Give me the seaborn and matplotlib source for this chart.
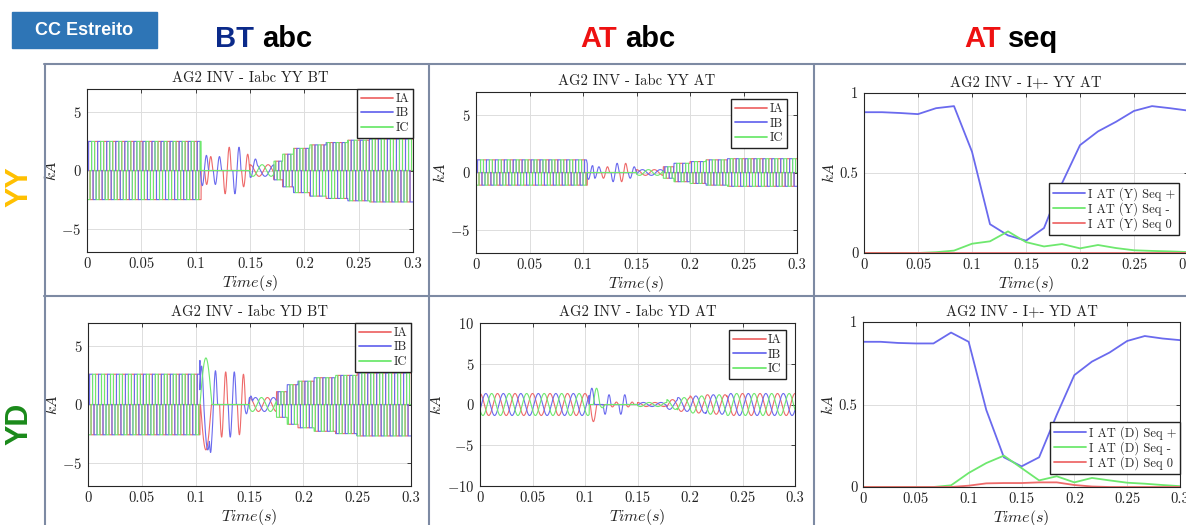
"""Recreate the CC Estreito current panels (abc and sequence currents).
"""
import numpy as np
import matplotlib
matplotlib.use("Agg")
import matplotlib.pyplot as plt
import seaborn as sns
from matplotlib.lines import Line2D
from matplotlib.patches import Rectangle

W, H = 1186, 525

phases = ["IA", "IB", "IC"]
phase_colors = {"IA": "#ee6a6a", "IB": "#6a6aee", "IC": "#6ee86e"}
F_GRID = 60.0      # sinusoidal currents
F_SQUARE = 120.0   # chopped (square) currents, as read from the plateau spacing
PHASE0 = np.pi / 2
BURST_W = 0.0075

# --- abc panels: piecewise amplitudes (segment start times, kA) ---
yy_bt_seg_t = [0.0, 0.105, 0.150, 0.172, 0.180, 0.190, 0.205, 0.220, 0.240, 0.260]
yy_bt_seg_sq = [2.5, 0.0, 0.0, 0.8, 1.4, 1.9, 2.2, 2.4, 2.6, 2.7]
yy_bt_seg_sin = [0.0, 0.0, 0.5, 0.0, 0.0, 0.0, 0.0, 0.0, 0.0, 0.0]
yy_bt_bursts = [("IB", 0.108, 1.3), ("IA", 0.112, 1.2), ("IB", 0.120, 1.2),
                ("IA", 0.129, 2.0), ("IB", 0.138, 2.0), ("IA", 0.146, 1.4),
                ("IB", 0.153, 0.5)]
yy_bt_lobes = []

yy_at_seg_t = [0.0, 0.104, 0.150, 0.175, 0.185, 0.200, 0.215, 0.235]
yy_at_seg_sq = [1.1, 0.0, 0.0, 0.5, 0.8, 0.95, 1.1, 1.2]
yy_at_seg_sin = [0.0, 0.0, 0.25, 0.0, 0.0, 0.0, 0.0, 0.0]
yy_at_bursts = [("IB", 0.107, 0.6), ("IB", 0.113, 0.5), ("IA", 0.121, 0.5),
                ("IB", 0.130, 0.8), ("IA", 0.138, 0.8), ("IB", 0.146, 0.5)]
yy_at_lobes = []

yd_bt_seg_t = [0.0, 0.104, 0.150, 0.175, 0.185, 0.195, 0.210, 0.230, 0.250]
yd_bt_seg_sq = [2.6, 0.0, 0.0, 1.1, 1.7, 2.0, 2.3, 2.5, 2.7]
yd_bt_seg_sin = [0.0, 0.0, 0.6, 0.0, 0.0, 0.0, 0.0, 0.0, 0.0]
yd_bt_bursts = [("IB", 0.1165, 2.9), ("IA", 0.126, 2.8), ("IB", 0.134, 2.8),
                ("IA", 0.1425, 2.6), ("IB", 0.149, 0.8)]
yd_bt_lobes = [("IC", 0.104, 0.011, 4.0), ("IA", 0.1045, 0.010, -3.9),
               ("IB", 0.1035, 0.004, 3.3), ("IB", 0.1075, 0.0075, -3.9)]

yd_at_seg_t = [0.0, 0.104, 0.150, 0.178, 0.188, 0.200, 0.215, 0.235]
yd_at_seg_sq = [0.0, 0.0, 0.0, 0.0, 0.0, 0.0, 0.0, 0.0]
yd_at_seg_sin = [1.35, 0.0, 0.25, 0.6, 0.85, 1.05, 1.2, 1.35]
yd_at_bursts = [("IB", 0.121, 1.2), ("IA", 0.128, 0.3), ("IB", 0.136, 1.2),
                ("IA", 0.143, 0.3)]
yd_at_lobes = [("IB", 0.104, 0.005, 2.0), ("IA", 0.105, 0.006, -2.1),
               ("IC", 0.108, 0.006, 2.0), ("IC", 0.114, 0.005, -0.4)]

# --- sequence panels (kA, one value per cycle) ---
seq_t = np.linspace(0, 0.3, 19)
yy_seq_pos = [0.88, 0.88, 0.875, 0.868, 0.905, 0.918, 0.633, 0.18, 0.11, 0.077,
              0.156, 0.436, 0.674, 0.76, 0.82, 0.888, 0.918, 0.905, 0.89]
yy_seq_neg = [0.0, 0.0, 0.0, 0.0, 0.005, 0.015, 0.058, 0.073, 0.135, 0.068,
              0.041, 0.056, 0.029, 0.05, 0.031, 0.017, 0.013, 0.01, 0.006]
yy_seq_zero = [0.0] * 19
yd_seq_pos = [0.88, 0.88, 0.873, 0.87, 0.87, 0.936, 0.88, 0.467, 0.18, 0.125,
              0.18, 0.437, 0.678, 0.76, 0.815, 0.885, 0.915, 0.90, 0.89]
yd_seq_neg = [0.0, 0.0, 0.0, 0.0, 0.0, 0.01, 0.085, 0.145, 0.19, 0.115,
              0.04, 0.065, 0.028, 0.055, 0.04, 0.026, 0.02, 0.012, 0.005]
yd_seq_zero = [0.0, 0.0, 0.0, 0.0, 0.0, 0.0, 0.008, 0.022, 0.024, 0.024,
               0.028, 0.028, 0.012, 0.003, 0.0, 0.0, 0.0, 0.0, 0.0]

t = np.linspace(0, 0.3, 9001)


def steps(seg_t, seg_v, tt):
    idx = np.searchsorted(seg_t, tt, side="right") - 1
    return np.asarray(seg_v)[idx]


def phase_wave(k, name, seg_t, seg_sq, seg_sin, bursts, lobes):
    shift = PHASE0 - k * 2 * np.pi / 3
    s = np.sin(2 * np.pi * F_GRID * t + shift)
    q = np.sin(2 * np.pi * F_SQUARE * t + shift)
    square = np.sign(q) * (np.abs(q) >= 0.5)
    y = steps(seg_t, seg_sq, t) * square + steps(seg_t, seg_sin, t) * s
    for ph, tc, a in bursts:
        if ph == name:
            m = np.abs(t - tc) < BURST_W / 2
            y[m] += a * np.sin(2 * np.pi * (t[m] - tc) / BURST_W)
    for ph, ts, w, a in lobes:
        if ph == name:
            m = (t >= ts) & (t < ts + w)
            y[m] += a * np.sin(np.pi * (t[m] - ts) / w)
    return y


sns.set_theme(style="whitegrid")
plt.rcParams.update({
    "font.family": ["cmr10", "DejaVu Serif"],
    "mathtext.fontset": "cm",
    "axes.formatter.use_mathtext": True,
    "axes.unicode_minus": False,
})

fig = plt.figure(figsize=(W / 100, H / 100), dpi=100)
fig.patch.set_facecolor("white")


def make_ax(left, right, top, bottom):
    return fig.add_axes([left / W, 1 - bottom / H, (right - left) / W, (bottom - top) / H])


def style_ax(ax, title, ylim, yticks):
    ax.set_xlim(0, 0.3)
    ax.set_ylim(*ylim)
    ax.set_xticks([0, 0.05, 0.1, 0.15, 0.2, 0.25, 0.3])
    ax.set_xticklabels(["0", "0.05", "0.1", "0.15", "0.2", "0.25", "0.3"])
    ax.set_yticks(yticks)
    ax.set_title(title, fontsize=10.5, pad=5, color="#222222")
    ax.set_xlabel(r"$Time(s)$", fontsize=11.5, labelpad=1, color="#222222")
    ax.set_ylabel(r"$kA$", fontsize=11, labelpad=2, color="#222222")
    ax.tick_params(direction="in", top=True, right=True, length=3, width=0.6,
                   labelsize=10.5, colors="#222222", pad=4)
    ax.grid(True, color="#dddddd", lw=0.7)
    for sp in ax.spines.values():
        sp.set_color("#262626")
        sp.set_linewidth(0.8)
    ax.set_facecolor("white")


LEG = dict(fontsize=9, frameon=True, fancybox=False, edgecolor="#222222",
           framealpha=1, handlelength=2.6, borderpad=0.3, labelspacing=0.2,
           handletextpad=0.2, borderaxespad=0)


def abc_panel(box, title, ylim, yticks, seg_t, seg_sq, seg_sin, bursts, lobes, leg_anchor):
    ax = make_ax(*box)
    for k, name in enumerate(phases):
        y = phase_wave(k, name, seg_t, seg_sq, seg_sin, bursts, lobes)
        sns.lineplot(x=t, y=y, color=phase_colors[name], linewidth=0.8,
                     estimator=None, sort=False, label=name, ax=ax)
    style_ax(ax, title, ylim, yticks)
    leg = ax.legend(loc="upper right", bbox_to_anchor=leg_anchor, **LEG)
    for h in leg.get_lines():
        h.set_linewidth(1.3)
    return ax


def seq_panel(box, title, tag, pos, neg, zero, leg_anchor):
    ax = make_ax(*box)
    sns.lineplot(x=seq_t, y=pos, color="#6a6aee", linewidth=1.3, estimator=None,
                 label="I AT (%s) Seq +" % tag, ax=ax)
    sns.lineplot(x=seq_t, y=neg, color="#6ee86e", linewidth=1.3, estimator=None,
                 label="I AT (%s) Seq -" % tag, ax=ax)
    sns.lineplot(x=seq_t, y=zero, color="#ee6a6a", linewidth=1.3, estimator=None,
                 label="I AT (%s) Seq 0" % tag, ax=ax)
    style_ax(ax, title, (0, 1), [0, 0.5, 1])
    ax.set_yticklabels(["0", "0.5", "1"])
    ax.legend(loc="center right", bbox_to_anchor=leg_anchor,
              **dict(LEG, labelspacing=0.12))
    return ax


abc_panel((87, 413, 89, 252), "AG2 INV - Iabc YY BT", (-7, 7), [-5, 0, 5],
          yy_bt_seg_t, yy_bt_seg_sq, yy_bt_seg_sin, yy_bt_bursts, yy_bt_lobes, (1.0, 1.0))
abc_panel((476, 797, 92, 253), "AG2 INV - Iabc YY AT", (-7, 7), [-5, 0, 5],
          yy_at_seg_t, yy_at_seg_sq, yy_at_seg_sin, yy_at_bursts, yy_at_lobes, (0.97, 0.955))
seq_panel((864, 1188, 93, 253), "AG2 INV - I+- YY AT", "Y",
          yy_seq_pos, yy_seq_neg, yy_seq_zero, (0.972, 0.275))
abc_panel((88, 411, 323, 486), "AG2 INV - Iabc YD BT", (-7, 7), [-5, 0, 5],
          yd_bt_seg_t, yd_bt_seg_sq, yd_bt_seg_sin, yd_bt_bursts, yd_bt_lobes, (1.0, 1.0))
abc_panel((480, 795, 323, 486), "AG2 INV - Iabc YD AT", (-10, 10), [-10, -5, 0, 5, 10],
          yd_at_seg_t, yd_at_seg_sq, yd_at_seg_sin, yd_at_bursts, yd_at_lobes, (0.97, 0.955))
seq_panel((863, 1180, 322, 487), "AG2 INV - I+- YD AT", "D",
          yd_seq_pos, yd_seq_neg, yd_seq_zero, (1.0, 0.237))

# panel frames
frame_col = "#7d8aa3"
for x in [44.5, 429, 814]:
    fig.add_artist(Line2D([x / W, x / W], [1 - 64 / H, 0], color=frame_col, lw=1.5))
for y in [64, 296]:
    fig.add_artist(Line2D([44 / W, 1], [1 - y / H, 1 - y / H], color=frame_col, lw=1.5))

# header
fig.add_artist(Rectangle((12 / W, 1 - 48 / H), 145 / W, 36 / H, transform=fig.transFigure,
                         facecolor="#2e75b6", edgecolor="#2e75b6"))
hdr = dict(family="Liberation Sans", weight="bold", va="baseline")
fig.text(84.5 / W, 1 - 35 / H, "CC Estreito", color="white", fontsize=13, ha="center", **hdr)
fig.text(254 / W, 1 - 47 / H, "BT", color="#0b2a8a", fontsize=21, ha="right", **hdr)
fig.text(262 / W, 1 - 47 / H, "abc", color="black", fontsize=21, ha="left", **hdr)
fig.text(617 / W, 1 - 47 / H, "AT", color="#ee1111", fontsize=21, ha="right", **hdr)
fig.text(625 / W, 1 - 47 / H, "abc", color="black", fontsize=21, ha="left", **hdr)
fig.text(1001 / W, 1 - 47 / H, "AT", color="#ee1111", fontsize=21, ha="right", **hdr)
fig.text(1008 / W, 1 - 47 / H, "seq", color="black", fontsize=21, ha="left", **hdr)

fig.text(19 / W, 1 - 187 / H, "YY", color="#ffc000", fontsize=22, rotation=90,
         ha="center", va="center", family="Liberation Sans", weight="bold")
fig.text(19 / W, 1 - 424 / H, "YD", color="#1a8a1a", fontsize=22, rotation=90,
         ha="center", va="center", family="Liberation Sans", weight="bold")

fig.savefig("out.png", dpi=100, facecolor="white")
